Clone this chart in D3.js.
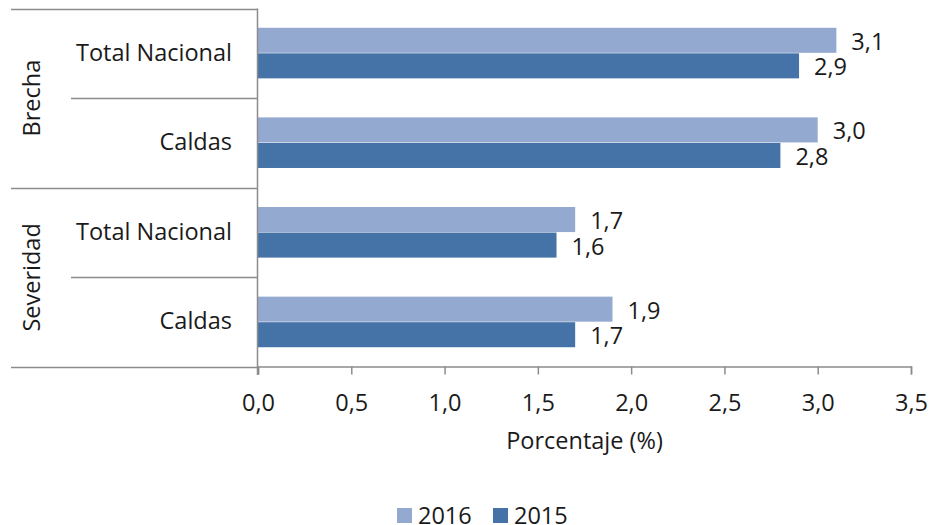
<!DOCTYPE html>
<html>
<head>
<meta charset="utf-8">
<script src="https://cdn.jsdelivr.net/npm/d3@7"></script>
<style>
  body { margin: 0; background: #fff; }
  text { font-family: "Open Sans", "Noto Sans", sans-serif; fill: #1a1a1a; }
</style>
</head>
<body>
<div id="chart"></div>
<script>
var groups = ['Brecha', 'Severidad'];
var categories = ['Total Nacional', 'Caldas'];
var seriesNames = ['2016', '2015'];
var values2016 = [3.1, 3.0, 1.7, 1.9];
var values2015 = [2.9, 2.8, 1.6, 1.7];
var xTicks = [0, 0.5, 1, 1.5, 2, 2.5, 3, 3.5];
var colors = ['#94a9d0', '#4573a7'];

var width = 930, height = 525;
var margin = { top: 8.5, left: 258, right: 19, bottom: 158 };
var plotBottom = height - margin.bottom;
var fontSize = 23.5;

var svg = d3.select('#chart').append('svg')
    .attr('width', width)
    .attr('height', height);

// one row per group/category pair
var rows = [];
groups.forEach(function(g, gi) {
    categories.forEach(function(c, ci) {
        var i = gi * categories.length + ci;
        rows.push({ key: g + '|' + c, group: g, cat: c, v: [values2016[i], values2015[i]] });
    });
});

var x = d3.scaleLinear()
    .domain([0, 3.5])
    .range([margin.left, width - margin.right]);

var y = d3.scaleBand()
    .domain(rows.map(function(d) { return d.key; }))
    .range([margin.top, plotBottom])
    .paddingInner(0.43)
    .paddingOuter(0.215);

var ySub = d3.scaleBand()
    .domain(seriesNames)
    .range([0, y.bandwidth()]);

var step = y.step();
var lineColor = '#8c8c8c';

// bars
var rowG = svg.selectAll('.row').data(rows).enter().append('g')
    .attr('transform', function(d) { return 'translate(0,' + y(d.key) + ')'; });

seriesNames.forEach(function(s, si) {
    rowG.append('rect')
        .attr('x', x(0))
        .attr('y', ySub(s))
        .attr('width', function(d) { return x(d.v[si]) - x(0); })
        .attr('height', ySub.bandwidth() - 0.5)
        .attr('fill', colors[si]);

    rowG.append('text')
        .attr('x', function(d) { return x(d.v[si]) + 15; })
        .attr('y', ySub(s) + ySub.bandwidth() / 2 + 1)
        .attr('dy', '0.35em')
        .attr('font-size', fontSize)
        .text(function(d) { return d3.format('.1f')(d.v[si]).replace('.', ','); });
});

// category labels
rowG.append('text')
    .attr('x', margin.left - 26)
    .attr('y', step * 0.5 - step * 0.215 - 1)
    .attr('text-anchor', 'end')
    .attr('dy', '0.35em')
    .attr('font-size', fontSize)
    .text(function(d) { return d.cat; });

// separator lines
var bounds = d3.range(rows.length + 1).map(function(i) { return margin.top + i * step; });
svg.selectAll('.sep').data(bounds).enter().append('line')
    .attr('x1', function(d, i) { return i % categories.length === 0 ? 11 : 71; })
    .attr('x2', margin.left)
    .attr('y1', function(d) { return Math.round(d) + 0.5; })
    .attr('y2', function(d) { return Math.round(d) + 0.5; })
    .attr('stroke', lineColor)
    .attr('stroke-width', 1.5);

// group labels
svg.selectAll('.grp').data(groups).enter().append('text')
    .attr('transform', function(d, i) {
        var cy = margin.top + (i + 0.5) * step * categories.length;
        return 'translate(32,' + cy + ') rotate(-90)';
    })
    .attr('text-anchor', 'middle')
    .attr('dy', '0.35em')
    .attr('font-size', fontSize)
    .text(function(d) { return d; });

// y axis line
svg.append('line')
    .attr('x1', margin.left - 0.5).attr('x2', margin.left - 0.5)
    .attr('y1', margin.top).attr('y2', plotBottom + 8)
    .attr('stroke', lineColor)
    .attr('stroke-width', 1.5);

// x axis
var xAxis = svg.append('g')
    .attr('transform', 'translate(0,' + (plotBottom - 0.5) + ')')
    .call(d3.axisBottom(x)
        .tickValues(xTicks)
        .tickSize(8)
        .tickPadding(20)
        .tickFormat(function(d) { return d3.format('.1f')(d).replace('.', ','); }));

xAxis.select('.domain').attr('stroke', lineColor).attr('stroke-width', 1.5);
xAxis.selectAll('.tick line').attr('stroke', lineColor).attr('stroke-width', 1.5);
xAxis.selectAll('.tick text')
    .attr('font-size', fontSize)
    .attr('font-family', '"Open Sans", "Noto Sans", sans-serif')
    .attr('fill', '#1a1a1a');

svg.append('text')
    .attr('x', (x(0) + x(3.5)) / 2)
    .attr('y', 441)
    .attr('dy', '0.35em')
    .attr('text-anchor', 'middle')
    .attr('font-size', fontSize)
    .text('Porcentaje (%)');

// legend
var legendX = [397, 493];
var legend = svg.selectAll('.leg').data(seriesNames).enter().append('g')
    .attr('transform', function(d, i) { return 'translate(' + legendX[i] + ',508)'; });

legend.append('rect')
    .attr('width', 15)
    .attr('height', 15)
    .attr('fill', function(d, i) { return colors[i]; });

legend.append('text')
    .attr('x', 21)
    .attr('y', 8)
    .attr('dy', '0.35em')
    .attr('font-size', fontSize)
    .text(function(d) { return d; });
</script>
</body>
</html>
